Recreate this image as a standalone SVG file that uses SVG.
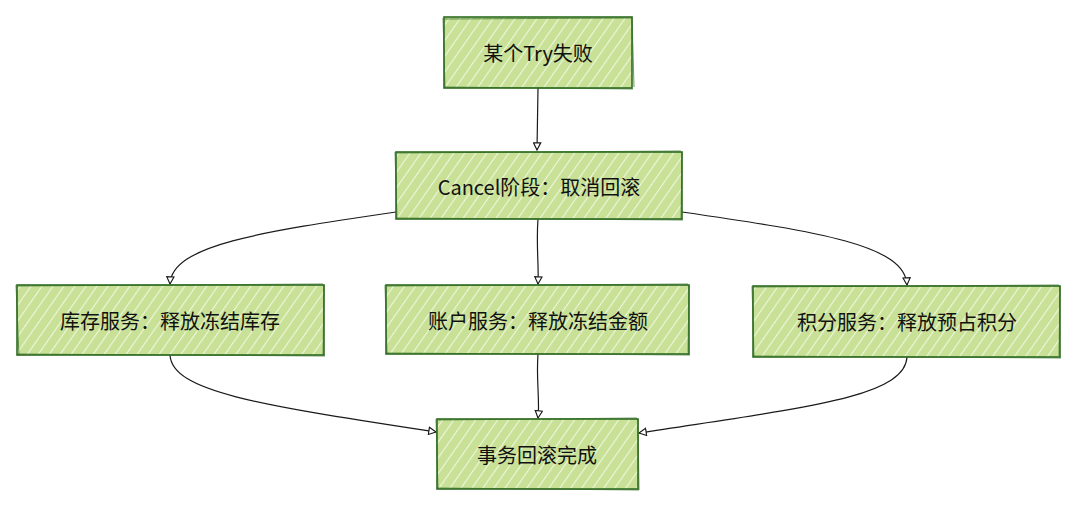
<svg xmlns="http://www.w3.org/2000/svg" width="1080" height="506" viewBox="0 0 1080 506">
  <style>
    .box { fill: url(#hatch); stroke: #2f6b22; stroke-width: 1.6; }
    .box2 { fill: none; stroke: #2f6b22; stroke-width: 1; opacity: 0.7; }
    .lbl { font-family: "Noto Sans CJK SC", "Noto Sans", sans-serif; font-size: 20px; fill: #111; text-anchor: middle; dominant-baseline: central; }
    .edge { fill: none; stroke: #1a1a1a; stroke-width: 1.2; }
  </style>
  <defs>
    <pattern id="hatch" patternUnits="userSpaceOnUse" width="9" height="9" patternTransform="rotate(35)">
      <rect width="9" height="9" fill="#c8e197"/>
      <line x1="0" y1="0" x2="0" y2="9" stroke="#eef6dc" stroke-width="2.2"/>
    </pattern>
    <marker id="arr" viewBox="0 0 10 10" refX="9" refY="5" markerWidth="9" markerHeight="9" orient="auto" markerUnits="userSpaceOnUse">
      <path d="M1,1 L9,5 L1,9 Z" fill="#fff" stroke="#1a1a1a" stroke-width="1.3"/>
    </marker>
  </defs>
  <rect width="1080" height="506" fill="#ffffff"/>

  <g id="edges">
    <path class="edge" d="M538,88 L537,150" marker-end="url(#arr)"/>
    <path class="edge" d="M396,212 C260,232 172,245 170,284" marker-end="url(#arr)"/>
    <path class="edge" d="M538,219 C536,245 539,265 538,284" marker-end="url(#arr)"/>
    <path class="edge" d="M682,212 C820,232 905,245 907,285" marker-end="url(#arr)"/>
    <path class="edge" d="M170,355 C172,392 260,405 436,432" marker-end="url(#arr)"/>
    <path class="edge" d="M538,354 C536,380 540,400 538,418" marker-end="url(#arr)"/>
    <path class="edge" d="M907,357 C905,398 800,408 639,433" marker-end="url(#arr)"/>
  </g>

  <g id="n1">
    <rect class="box" x="444" y="17" width="188" height="71"/>
    <path class="box2" d="M445,19 L631,18 M443,18 L445,88 M632,17 L634,87 M444,87 L633,89"/>
    <text class="lbl" x="538" y="52">某个Try失败</text>
  </g>
  <g id="n2">
    <rect class="box" x="396" y="152" width="286" height="67"/>
    <path class="box2" d="M397,153 L681,151 M395,152 L397,219 M682,152 L681,220 M396,218 L683,220"/>
    <text class="lbl" x="539" y="186">Cancel阶段：取消回滚</text>
  </g>
  <g id="n3">
    <rect class="box" x="17" y="285" width="307" height="70"/>
    <path class="box2" d="M18,286 L323,284 M16,285 L19,356 M324,285 L323,355 M17,354 L325,356"/>
    <text class="lbl" x="170" y="320">库存服务：释放冻结库存</text>
  </g>
  <g id="n4">
    <rect class="box" x="386" y="285" width="303" height="69"/>
    <path class="box2" d="M387,286 L688,284 M385,285 L387,354 M689,285 L688,355 M386,353 L690,355"/>
    <text class="lbl" x="538" y="320">账户服务：释放冻结金额</text>
  </g>
  <g id="n5">
    <rect class="box" x="753" y="286" width="307" height="71"/>
    <path class="box2" d="M754,287 L1059,285 M752,286 L754,357 M1060,286 L1059,356 M753,356 L1061,358"/>
    <text class="lbl" x="907" y="321">积分服务：释放预占积分</text>
  </g>
  <g id="n6">
    <rect class="box" x="437" y="419" width="201" height="70"/>
    <path class="box2" d="M438,420 L637,418 M436,419 L438,489 M638,419 L639,490 M437,488 L639,490"/>
    <text class="lbl" x="537" y="454">事务回滚完成</text>
  </g>
</svg>
